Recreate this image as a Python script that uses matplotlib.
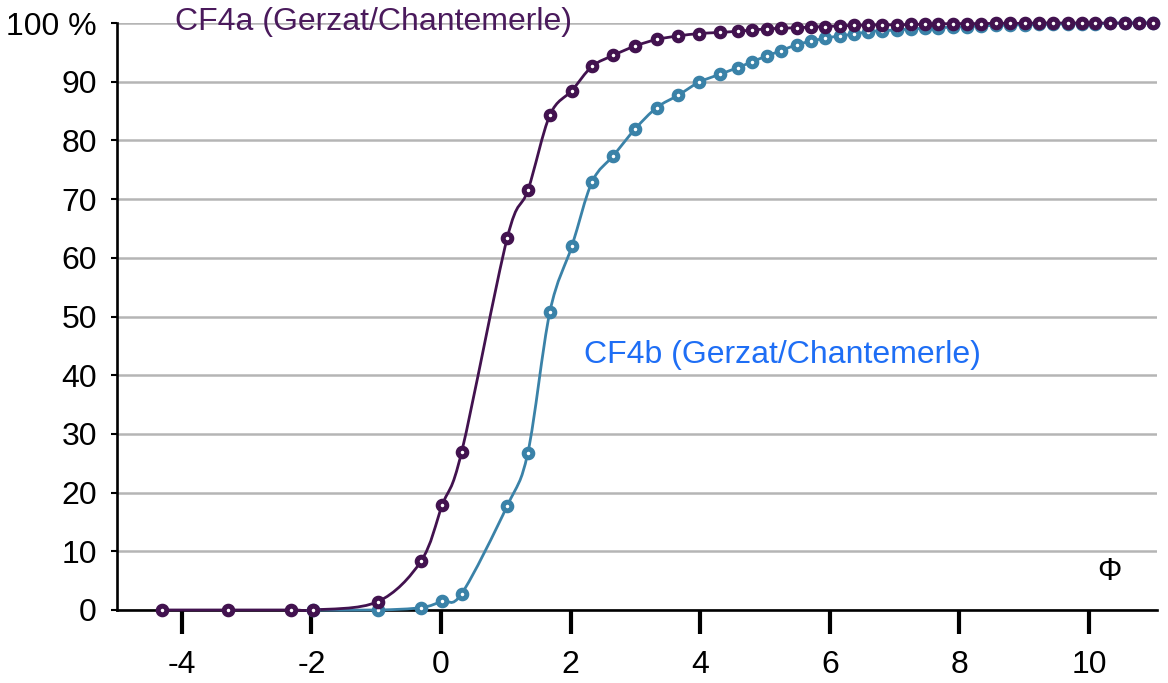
import matplotlib.pyplot as plt
import numpy as np
from matplotlib.path import Path
from matplotlib.patches import PathPatch

plt.rcParams['font.family'] = ['Liberation Sans', 'DejaVu Sans']

# cumulative grain-size curves (phi scale, % passing)
phi_a = [-4.31, -3.29, -2.31, -1.97, -0.98, -0.31, 0.02, 0.32, 1.02, 1.34, 1.68,
         2.02, 2.33, 2.66, 3.00, 3.33, 3.66, 3.98, 4.31, 4.58, 4.80, 5.03, 5.25,
         5.49, 5.71, 5.92, 6.15, 6.37, 6.59, 6.80, 7.03, 7.25, 7.47, 7.67, 7.90,
         8.12, 8.34, 8.56, 8.78, 9.01, 9.23, 9.45, 9.67, 9.89, 10.10, 10.32,
         10.55, 10.77, 10.99]
cum_a = [0, 0, 0, 0, 1.4, 8.3, 17.9, 27.0, 63.3, 71.5, 84.3,
         88.5, 92.6, 94.5, 96.1, 97.2, 97.8, 98.2, 98.4, 98.6, 98.8, 99.0, 99.1,
         99.2, 99.3, 99.4, 99.5, 99.6, 99.65, 99.7, 99.7, 99.75, 99.8, 99.85, 99.9,
         99.9, 99.9, 99.95, 99.95, 99.95, 100, 100, 100, 100, 100, 100,
         100, 100, 100]

phi_b = [-1.97, -0.98, -0.31, 0.02, 0.32, 1.02, 1.34, 1.68,
         2.02, 2.33, 2.66, 3.00, 3.33, 3.66, 3.98, 4.31, 4.58, 4.80, 5.03, 5.25,
         5.49, 5.71, 5.92, 6.15, 6.37, 6.59, 6.80, 7.03, 7.25, 7.47, 7.67, 7.90,
         8.12, 8.34, 8.56, 8.78, 9.01, 9.23, 9.45, 9.67, 9.89, 10.10, 10.32,
         10.55, 10.77, 10.99]
cum_b = [0, 0, 0.4, 1.5, 2.8, 17.7, 26.8, 50.8,
         62.0, 72.9, 77.4, 82.0, 85.6, 87.7, 89.9, 91.3, 92.4, 93.4, 94.4, 95.3,
         96.3, 96.9, 97.4, 97.8, 98.1, 98.5, 98.7, 98.8, 99.0, 99.1, 99.2, 99.3,
         99.4, 99.5, 99.6, 99.65, 99.7, 99.75, 99.8, 99.85, 99.9, 99.9, 99.95,
         100, 100, 100]

yticks = [0, 10, 20, 30, 40, 50, 60, 70, 80, 90, 100]
ylabels = ['0', '10', '20', '30', '40', '50', '60', '70', '80', '90', '100 %']
xticks = [-4, -2, 0, 2, 4, 6, 8, 10]

col_a = '#42124f'
col_b = '#3a82a8'


def smooth_path(x, y):
    # Catmull-Rom curve through the points, written as cubic Bezier segments
    pts = np.column_stack([x, y]).astype(float)
    n = len(pts)
    verts = [pts[0]]
    codes = [Path.MOVETO]
    for i in range(n - 1):
        p0 = pts[max(i - 1, 0)]
        p1 = pts[i]
        p2 = pts[i + 1]
        p3 = pts[min(i + 2, n - 1)]
        verts += [p1 + (p2 - p0) / 6, p2 - (p3 - p1) / 6, p2]
        codes += [Path.CURVE4] * 3
    return Path(verts, codes)


fig = plt.figure(figsize=(11.68, 6.83), dpi=100)
ax = fig.add_axes([0.1002, 0.1069, 0.8904, 0.8594])

for x, y, c in [(phi_b, cum_b, col_b), (phi_a, cum_a, col_a)]:
    ax.add_patch(PathPatch(smooth_path(x, y), fill=False, edgecolor=c,
                           lw=2.0, capstyle='round', clip_on=False, zorder=3))
    ax.plot(x, y, 'o', ms=6.2, mew=3.6, mec=c, mfc='white', clip_on=False,
            zorder=4, linestyle='none')

ax.set_xlim(-5, 11.05)
ax.set_ylim(0, 100)
ax.set_yticks(yticks)
ax.set_yticklabels(ylabels)
ax.set_xticks(xticks)
ax.set_xticklabels([str(t) for t in xticks])

ax.yaxis.grid(True, color='#b5b5b5', lw=1.8)
ax.set_axisbelow(True)
for s in ['top', 'right']:
    ax.spines[s].set_visible(False)
for s in ['left', 'bottom']:
    ax.spines[s].set_linewidth(1.9)
    ax.spines[s].set_color('black')

ax.tick_params(axis='x', direction='out', length=17, width=3, pad=12,
               labelsize=23)
ax.tick_params(axis='y', direction='out', length=4.5, width=1.5, pad=10,
               labelsize=23)

ax.text(-4.11, 100.2, 'CF4a (Gerzat/Chantemerle)', color='#4a1a5c',
        fontsize=23, ha='left', va='center')
ax.text(2.2, 43.4, 'CF4b (Gerzat/Chantemerle)', color='#1e6ef5',
        fontsize=23, ha='left', va='center')
ax.text(10.31, 6.5, 'Φ', fontsize=22, ha='center', va='center')

fig.savefig('out.png', dpi=100)
